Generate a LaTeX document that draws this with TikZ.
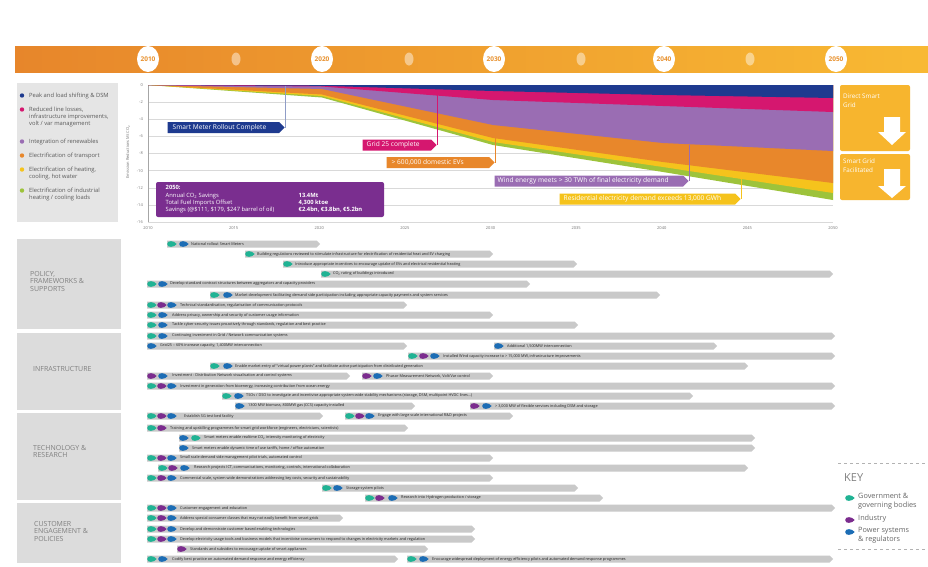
\documentclass[tikz,border=0pt]{standalone}
\usepackage{fontspec}
\setmainfont{Open Sans}
\usetikzlibrary{shapes.symbols,shapes.geometric,positioning}
\definecolor{smnavy}{HTML}{1E3A8F}
\definecolor{smmag}{HTML}{D5176F}
\definecolor{smlav}{HTML}{9A6DB3}
\definecolor{smorg}{HTML}{E8872B}
\definecolor{smyel}{HTML}{F5C31C}
\definecolor{smgrn}{HTML}{9DC33B}
\definecolor{sumpurp}{HTML}{7A2E8F}
\definecolor{govc}{HTML}{20B394}
\definecolor{indc}{HTML}{7B2C8E}
\definecolor{powc}{HTML}{1C6DB5}
\definecolor{bargray}{HTML}{C9C9C9}
\definecolor{catgray}{HTML}{DCDCDC}
\definecolor{sgbox}{HTML}{F7B52E}
\definecolor{yearorg}{HTML}{E8902C}
\begin{document}
\begin{tikzpicture}[x=1pt,y=-1pt,
		bar/.style={shape=signal, signal to=east, signal from=nowhere, fill=bargray, minimum height=7pt, inner sep=0pt, anchor=west},
		rowtxt/.style={anchor=west, inner sep=0pt, font=\fontsize{3.8}{4}\selectfont, text=black!88},
		leaf/.pic={\fill[#1] (4.7,0) .. controls (2,-3.6) and (-4.8,-4) .. (-4.8,0) .. controls (-4.8,4) and (2,3.6) .. (4.7,0) -- cycle;},
		callout/.style={shape=signal, signal to=east, signal from=nowhere, minimum height=11pt, inner sep=0pt, anchor=east},
		calltxt/.style={anchor=west, inner sep=0pt, text=white, font=\fontsize{6.6}{7}\selectfont},
		leader/.style={line width=0.6pt},
		cat/.style={fill=catgray, anchor=north west, inner sep=0pt, minimum width=104pt},
		cattxt/.style={anchor=north west, align=left, inner sep=0pt, text=black!50, font=\fontsize{7}{7.4}\selectfont},
		yearcirc/.style={shape=ellipse, fill=white, minimum width=22pt, minimum height=26pt, inner sep=0pt, text=yearorg, font=\bfseries\fontsize{6.5}{7}\selectfont},
		yeardot/.style={shape=ellipse, fill=white, fill opacity=.45, minimum width=9pt, minimum height=13pt, inner sep=0pt},
		legtxt/.style={anchor=north west, align=left, inner sep=0pt, text=black!65, font=\fontsize{5.8}{7.4}\selectfont},
		axtxt/.style={inner sep=0pt, text=black!55, font=\fontsize{4}{5}\selectfont},
		sgtxt/.style={anchor=north west, align=left, inner sep=0pt, text=white, font=\fontsize{6.3}{8.5}\selectfont},
		keytxt/.style={anchor=north west, align=left, inner sep=0pt, text=black!60, font=\fontsize{7.3}{9}\selectfont}
	]
	\useasboundingbox (0,0) rectangle (928,566);
	\fill[white] (0,0) rectangle (928,566);

	\shade[left color={rgb,255:red,231;green,134;blue,43}, right color={rgb,255:red,248;green,185;blue,51}] (15,46) rectangle (928,72);
	\node[yearcirc] (y2010) at (148,59) {2010};
	\node[yeardot] (d2015) at (236,59) {};
	\node[yearcirc] (y2020) at (322,59) {2020};
	\node[yeardot] (d2025) at (409,59) {};
	\node[yearcirc] (y2030) at (494,59) {2030};
	\node[yeardot] (d2035) at (581,59) {};
	\node[yearcirc] (y2040) at (664,59) {2040};
	\node[yeardot] (d2045) at (750,59) {};
	\node[yearcirc] (y2050) at (836,59) {2050};

	\fill[black!10] (17,83) rectangle (118,222);
	\fill[smnavy] (22,95.5) circle (2.2);
	\node[legtxt] (leg1) at (29,92.5) {Peak and load shifting \& DSM};
	\fill[smmag] (22,109.5) circle (2.2);
	\node[legtxt] (leg2) at (29,106.5) {Reduced line losses,\\infrastructure improvements,\\volt / var management};
	\fill[smlav] (22,141.5) circle (2.2);
	\node[legtxt] (leg3) at (29,138.5) {Integration of renewables};
	\fill[smorg] (22,155.5) circle (2.2);
	\node[legtxt] (leg4) at (29,152.5) {Electrification of transport};
	\fill[smyel] (22,169.5) circle (2.2);
	\node[legtxt] (leg5) at (29,166.5) {Electrification of heating,\\cooling, hot water};
	\fill[smgrn] (22,190.5) circle (2.2);
	\node[legtxt] (leg6) at (29,187.5) {Electrification of industrial\\heating / cooling loads};

	\foreach \k in {0,...,8}
		\draw[black!15, line width=0.4pt] (148,85+17.125*\k) -- (833,85+17.125*\k);
	\draw[black!35, line width=0.4pt] (148,85) -- (148,222);
	\foreach \k/\v in {0/0,1/-2,2/-4,3/-6,4/-8,5/-10,6/-12,7/-14,8/-16}
		\node[axtxt, anchor=east] (tick\k) at (143,85+17.125*\k) {\v};
	\foreach \k/\v in {0/2010,1/2015,2/2020,3/2025,4/2030,5/2035,6/2040,7/2045,8/2050}
		\node[axtxt] (yr\k) at (148+85.625*\k,228) {\v};
	\node[axtxt, rotate=90] (ylab) at (128,152) {Emission Reductions Mt CO\textsubscript{2}};

	\foreach \c/\a/\b/\d/\e in {smgrn/97.5/145/172/200, smyel/96/142/167/193, smorg/94.5/138/162/183, smlav/89/125/143/151, smmag/86.5/100/106/112, smnavy/85.8/91/95/98}
		\fill[\c] (148,85) -- (833,85) -- (833,\e) -- (663,\d) -- (493,\b) -- (322,\a) -- cycle;

	\node[callout, fill=smnavy, minimum width=117pt] (smbox) at (285,127.5) {};
	\node[calltxt] (smtxt) at ([xshift=5pt]smbox.west) {Smart Meter Rollout Complete};
	\coordinate (smtop) at (285,85.5);
	\draw[leader, smnavy!50] (smtop) -- (smbox.east);

	\node[callout, fill=smmag, minimum width=74pt] (gridbox) at (437,145) {};
	\node[calltxt] (gridtxt) at ([xshift=4pt]gridbox.west) {Grid 25 complete};
	\coordinate (gridtop) at (437,95);
	\draw[leader, smmag] (gridtop) -- (gridbox.east);

	\node[callout, fill=smorg, minimum width=108pt] (evbox) at (495,162.5) {};
	\node[calltxt] (evtxt) at ([xshift=5pt]evbox.west) {> 600,000 domestic EVs};
	\coordinate (evtop) at (495,136);
	\draw[leader, smorg] (evtop) -- (evbox.east);

	\node[callout, fill=smlav, minimum width=194pt] (windbox) at (689,181) {};
	\node[calltxt] (windtxt) at ([xshift=3pt]windbox.west) {Wind energy meets > 30 TWh of final electricity demand};
	\coordinate (windtop) at (689,145);
	\draw[leader, smlav] (windtop) -- (windbox.east);

	\node[callout, fill=smyel, minimum width=181pt] (resbox) at (741,199) {};
	\node[calltxt] (restxt) at ([xshift=4pt]resbox.west) {Residential electricity demand exceeds 13,000 GWh};
	\coordinate (restop) at (741,176);
	\draw[leader, smyel] (restop) -- (resbox.east);

	\node[fill=sumpurp, rounded corners=2pt, minimum width=228pt, minimum height=35pt, inner sep=0pt] (sumbox) at (270,199.5) {};
	\node[anchor=north west, inner sep=0pt, text=white, font=\fontsize{5.8}{6.6}\selectfont] (sumtab) at (164,184.5) {
		\def\arraystretch{1.1}
		\begin{tabular}{@{}p{133pt}@{}l@{}}
			\textbf{2050:} & \\
			Annual CO\textsubscript{2} Savings & \textbf{13.4Mt} \\
			Total Fuel Imports Offset & \textbf{4,300 ktoe} \\
			Savings (@\$111, \$179, \$247 barrel of oil) & \textbf{€2.4bn, €3.8bn, €5.2bn} \\
		\end{tabular}
	};

	\node[fill=sgbox, rounded corners=2pt, minimum width=70pt, minimum height=66pt, inner sep=0pt] (direct) at (875,118) {};
	\node[sgtxt] (directtxt) at (843,94) {Direct Smart\\Grid};
	\fill[white] (884,117) -- (900,117) -- (900,132) -- (906,132) -- (892,145) -- (878,132) -- (884,132) -- cycle;
	\node[fill=sgbox, rounded corners=2pt, minimum width=70pt, minimum height=46pt, inner sep=0pt] (facil) at (875,177) {};
	\node[sgtxt] (faciltxt) at (843,159) {Smart Grid\\Facilitated};
	\fill[white] (884,169) -- (900,169) -- (900,186) -- (906,186) -- (892,198) -- (878,186) -- (884,186) -- cycle;

	\node[cat, minimum height=90pt] (policy) at (17,239) {};
	\node[cattxt] (policytxt) at (30,271) {POLICY,\\FRAMEWORKS \&\\SUPPORTS};
	\node[cat, minimum height=77pt] (infra) at (17,333) {};
	\node[cattxt] (infratxt) at (33,366) {INFRASTRUCTURE};
	\node[cat, minimum height=87pt] (tech) at (17,413) {};
	\node[cattxt] (techtxt) at (33,445) {TECHNOLOGY \&\\RESEARCH};
	\node[cat, minimum height=60pt] (cust) at (17,503) {};
	\node[cattxt] (custtxt) at (34,521) {CUSTOMER\\ENGAGEMENT \&\\POLICIES};

	\node[bar, minimum width=153pt] (bar1) at (167,244) {};
	\node[rowtxt] (row1) at (191,244) {National rollout Smart Meters};
	\pic at (172,244) {leaf=govc}; \pic at (184,244) {leaf=powc};
	\node[bar, minimum width=248pt] (bar2) at (245,254) {};
	\node[rowtxt] (row2) at (257,254) {Building regulations reviewed to stimulate infrastructure for electrification of residential heat and EV charging};
	\pic at (250,254) {leaf=govc};
	\node[bar, minimum width=294pt] (bar3) at (283,264) {};
	\node[rowtxt] (row3) at (295,264) {Introduce appropriate incentives to encourage uptake of EVs and electrical residential heating};
	\pic at (288,264) {leaf=govc};
	\node[bar, minimum width=512pt] (bar4) at (321,274) {};
	\node[rowtxt] (row4) at (333,274) {CO\textsubscript{2} rating of buildings introduced};
	\pic at (326,274) {leaf=govc};
	\node[bar, minimum width=383pt] (bar5) at (147,284) {};
	\node[rowtxt] (row5) at (170,284) {Develop standard contract structures between aggregators and capacity providers};
	\pic at (152,284) {leaf=govc}; \pic at (163,284) {leaf=powc};
	\node[bar, minimum width=450pt] (bar6) at (210,295) {};
	\node[rowtxt] (row6) at (235,295) {Market development facilitating demand side participation including appropriate capacity payments and system services};
	\pic at (215,295) {leaf=govc}; \pic at (228,295) {leaf=powc};
	\node[bar, minimum width=260pt] (bar7) at (147,305) {};
	\node[rowtxt] (row7) at (180,305) {Technical standardisation, regularisation of communication protocols};
	\pic at (152,305) {leaf=govc}; \pic at (162,305) {leaf=indc}; \pic at (172,305) {leaf=powc};
	\node[bar, minimum width=346pt] (bar8) at (147,315) {};
	\node[rowtxt] (row8) at (172,315) {Address privacy, ownership and security of customer usage information};
	\pic at (152,315) {leaf=govc}; \pic at (163,315) {leaf=powc};
	\node[bar, minimum width=431pt] (bar9) at (147,325) {};
	\node[rowtxt] (row9) at (172,325) {Tackle cyber security issues proactively through standards, regulation and best practice};
	\pic at (152,325) {leaf=govc}; \pic at (163,325) {leaf=powc};

	\node[bar, minimum width=688pt] (bar10) at (147,336) {};
	\node[rowtxt] (row10) at (172,336) {Continuing investment in Grid / Network communication systems};
	\pic at (152,336) {leaf=govc}; \pic at (163,336) {leaf=powc};
	\node[bar, minimum width=260pt] (bar11) at (147,346) {};
	\node[rowtxt] (row11) at (160,346) {Grid25 -- 60\% increase capacity, 1,400MW interconnection};
	\pic at (152,346) {leaf=powc};
	\node[bar, minimum width=223pt] (bar11b) at (494,346) {};
	\node[rowtxt] (row11b) at (507,346) {Additional 1,500MW interconnection};
	\pic at (499,346) {leaf=powc};
	\node[bar, minimum width=427pt] (bar12) at (408,356) {};
	\node[rowtxt] (row12) at (443,356) {Installed Wind capacity increase to > 15,000 MW, infrastructure improvements};
	\pic at (413,356) {leaf=govc}; \pic at (424,356) {leaf=indc}; \pic at (435,356) {leaf=powc};
	\node[bar, minimum width=538pt] (bar13) at (210,366) {};
	\node[rowtxt] (row13) at (235,366) {Enable market entry of ``virtual power plants'' and facilitate active participation from distributed generation};
	\pic at (215,366) {leaf=govc}; \pic at (228,366) {leaf=powc};
	\node[bar, minimum width=203pt] (bar14) at (147,376) {};
	\node[rowtxt] (row14) at (172,376) {Investment - Distribution Network visualisation and control systems};
	\pic at (152,376) {leaf=indc}; \pic at (163,376) {leaf=powc};
	\node[bar, minimum width=131pt] (bar14b) at (362,376) {};
	\node[rowtxt] (row14b) at (386,376) {Phasor Measurement Network, Volt/Var control};
	\pic at (367,376) {leaf=indc}; \pic at (378,376) {leaf=powc};
	\node[bar, minimum width=688pt] (bar15) at (147,386) {};
	\node[rowtxt] (row15) at (180,386) {Investment in generation from bioenergy, increasing contribution from ocean energy};
	\pic at (152,386) {leaf=govc}; \pic at (162,386) {leaf=indc}; \pic at (172,386) {leaf=powc};
	\node[bar, minimum width=471pt] (bar16) at (222,396) {};
	\node[rowtxt] (row16) at (246,396) {TSOs / DSO to investigate and incentivise appropriate system-wide stability mechanisms (storage, DSM, multipoint HVDC lines...)};
	\pic at (227,396) {leaf=govc}; \pic at (239,396) {leaf=powc};
	\node[bar, minimum width=180pt] (bar17) at (235,406) {};
	\node[rowtxt] (row17) at (248,406) {1300 MW biomass, 800MW gas (CCS) capacity installed};
	\pic at (240,406) {leaf=powc};
	\node[bar, minimum width=365pt] (bar17b) at (470,406) {};
	\node[rowtxt] (row17b) at (495,406) {> 3,000 MW of flexible services including DSM and storage};
	\pic at (475,406) {leaf=indc}; \pic at (487,406) {leaf=powc};
	\node[bar, minimum width=176pt] (bar18) at (147,416) {};
	\node[rowtxt] (row18) at (184,416) {Establish SG test bed facility};
	\pic at (152,416) {leaf=govc}; \pic at (162,416) {leaf=indc}; \pic at (172,416) {leaf=powc};
	\node[bar, minimum width=168pt] (bar18b) at (345,416) {};
	\node[rowtxt] (row18b) at (378,416) {Engage with large scale international R\&D projects};
	\pic at (350,416) {leaf=govc}; \pic at (360,416) {leaf=indc}; \pic at (370,416) {leaf=powc};

	\node[bar, minimum width=261pt] (bar19) at (147,428) {};
	\node[rowtxt] (row19) at (170,428) {Training and upskilling programmes for smart grid workforce (engineers, electricians, scientists)};
	\pic at (152,428) {leaf=govc}; \pic at (162,428) {leaf=indc};
	\node[bar, minimum width=576pt] (bar20) at (179,438) {};
	\node[rowtxt] (row20) at (204,438) {Smart meters enable realtime CO\textsubscript{2} intensity monitoring of electricity};
	\pic at (184,438) {leaf=powc}; \pic at (196,438) {leaf=govc};
	\node[bar, minimum width=576pt] (bar21) at (179,448) {};
	\node[rowtxt] (row21) at (192,448) {Smart meters enable dynamic time of use tariffs, home / office automation};
	\pic at (184,448) {leaf=powc};
	\node[bar, minimum width=346pt] (bar22) at (147,458) {};
	\node[rowtxt] (row22) at (180,458) {Small scale demand side management pilot trials, automated control};
	\pic at (152,458) {leaf=govc}; \pic at (162,458) {leaf=indc}; \pic at (172,458) {leaf=powc};
	\node[bar, minimum width=590pt] (bar23) at (158,468) {};
	\node[rowtxt] (row23) at (194,468) {Research projects ICT, communications, monitoring, controls, international collaboration};
	\pic at (163,468) {leaf=govc}; \pic at (173,468) {leaf=indc}; \pic at (185,468) {leaf=powc};
	\node[bar, minimum width=346pt] (bar24) at (147,478) {};
	\node[rowtxt] (row24) at (180,478) {Commercial scale, system wide demonstrations addressing key costs, security and sustainability};
	\pic at (152,478) {leaf=govc}; \pic at (162,478) {leaf=indc}; \pic at (172,478) {leaf=powc};
	\node[bar, minimum width=256pt] (bar25) at (322,488) {};
	\node[rowtxt] (row25) at (346,488) {Storage system pilots};
	\pic at (327,488) {leaf=govc}; \pic at (338,488) {leaf=powc};
	\node[bar, minimum width=238pt] (bar26) at (365,498) {};
	\node[rowtxt] (row26) at (401,498) {Research into Hydrogen production / storage};
	\pic at (370,498) {leaf=govc}; \pic at (380,498) {leaf=indc}; \pic at (393,498) {leaf=powc};

	\node[bar, minimum width=688pt] (bar27) at (147,508) {};
	\node[rowtxt] (row27) at (180,508) {Customer engagement and education};
	\pic at (152,508) {leaf=govc}; \pic at (162,508) {leaf=indc}; \pic at (172,508) {leaf=powc};
	\node[bar, minimum width=196pt] (bar28) at (147,518) {};
	\node[rowtxt] (row28) at (180,518) {Address special consumer classes that may not easily benefit from smart grids};
	\pic at (152,518) {leaf=govc}; \pic at (162,518) {leaf=indc}; \pic at (172,518) {leaf=powc};
	\node[bar, minimum width=328pt] (bar29) at (147,529) {};
	\node[rowtxt] (row29) at (180,529) {Develop and demonstrate customer based enabling technologies};
	\pic at (152,529) {leaf=govc}; \pic at (162,529) {leaf=indc}; \pic at (172,529) {leaf=powc};
	\node[bar, minimum width=328pt] (bar30) at (147,539) {};
	\node[rowtxt] (row30) at (180,539) {Develop electricity usage tools and business models that incentivise consumers to respond to changes in electricity markets and regulation};
	\pic at (152,539) {leaf=govc}; \pic at (162,539) {leaf=indc}; \pic at (172,539) {leaf=powc};
	\node[bar, minimum width=251pt] (bar31) at (177,549) {};
	\node[rowtxt] (row31) at (190,549) {Standards and subsidies to encourage uptake of smart appliances};
	\pic at (182,549) {leaf=indc};
	\node[bar, minimum width=251pt] (bar32) at (147,559) {};
	\node[rowtxt] (row32) at (172,559) {Codify best practice on automated demand response and energy efficiency};
	\pic at (152,559) {leaf=govc}; \pic at (163,559) {leaf=powc};
	\node[bar, minimum width=426pt] (bar32b) at (407,559) {};
	\node[rowtxt] (row32b) at (432,559) {Encourage widespread deployment of energy efficiency pilots and automated demand response programmes};
	\pic at (412,559) {leaf=govc}; \pic at (424,559) {leaf=powc};

	\draw[black!30, dashed, line width=0.4pt] (838,463) -- (928,463);
	\draw[black!30, dashed, line width=0.4pt] (838,549) -- (928,549);
	\node[anchor=west, inner sep=0pt, text=black!50, font=\fontsize{11}{12}\selectfont] (key) at (844,478) {KEY};
	\pic at (850,498) {leaf=govc};
	\node[keytxt] (keygov) at (858,493) {Government \&\\governing bodies};
	\pic at (850,520) {leaf=indc};
	\node[keytxt] (keyind) at (858,515) {Industry};
	\pic at (850,532) {leaf=powc};
	\node[keytxt] (keypow) at (858,527) {Power systems\\\& regulators};
\end{tikzpicture}
\end{document}
